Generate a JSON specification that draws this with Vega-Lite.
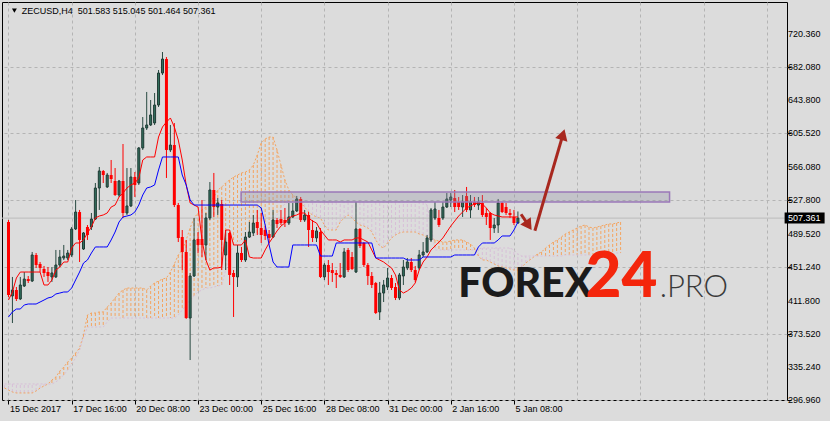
{
"$schema":"https://vega.github.io/schema/vega-lite/v6.json",
"width":785,"height":398,
"autosize":{"type":"none"},
"padding":{"left":2,"top":2,"right":43,"bottom":21},
"background":"#dcdcdc",
"config":{"view":{"stroke":"#000000","strokeWidth":1,"fill":"#dcdcdc"},"font":"Liberation Sans",
 "axis":{"labelOverlap":false,"labelBound":false,"labelFlush":false}},
"datasets":{
"candles":[
{"i":0,"o":502.9,"h":505.2,"l":416.1,"c":418.4},
{"i":1,"o":417.3,"h":439.3,"l":386.0,"c":424.2},
{"i":2,"o":424.2,"h":427.7,"l":411.5,"c":413.8},
{"i":3,"o":413.8,"h":439.3,"l":412.6,"c":430.0},
{"i":4,"o":428.8,"h":445.0,"l":427.7,"c":436.9},
{"i":5,"o":436.9,"h":440.4,"l":432.3,"c":434.6},
{"i":6,"o":434.6,"h":468.2,"l":433.5,"c":464.7},
{"i":7,"o":464.7,"h":467.0,"l":449.7,"c":453.1},
{"i":8,"o":454.3,"h":456.6,"l":445.0,"c":449.7},
{"i":9,"o":448.5,"h":452.0,"l":439.3,"c":443.9},
{"i":10,"o":445.0,"h":450.8,"l":433.5,"c":440.4},
{"i":11,"o":439.3,"h":450.8,"l":433.5,"c":443.9},
{"i":12,"o":439.3,"h":470.5,"l":438.1,"c":453.1},
{"i":13,"o":453.1,"h":470.5,"l":450.8,"c":462.4},
{"i":14,"o":461.2,"h":476.3,"l":458.9,"c":463.5},
{"i":15,"o":461.2,"h":470.5,"l":458.9,"c":467.0},
{"i":16,"o":464.7,"h":497.1,"l":462.4,"c":494.8},
{"i":17,"o":494.8,"h":528.3,"l":493.6,"c":514.4},
{"i":18,"o":514.4,"h":516.8,"l":456.6,"c":482.1},
{"i":19,"o":471.6,"h":491.3,"l":470.5,"c":490.2},
{"i":20,"o":497.1,"h":499.4,"l":482.1,"c":487.8},
{"i":21,"o":497.1,"h":513.3,"l":493.6,"c":506.3},
{"i":22,"o":506.3,"h":548.0,"l":505.2,"c":542.2},
{"i":23,"o":542.2,"h":566.5,"l":516.8,"c":561.9},
{"i":24,"o":561.9,"h":563.0,"l":548.0,"c":557.2},
{"i":25,"o":543.4,"h":559.6,"l":542.2,"c":557.2},
{"i":26,"o":557.2,"h":574.6,"l":548.0,"c":552.6},
{"i":27,"o":550.3,"h":565.3,"l":533.0,"c":534.1},
{"i":28,"o":534.1,"h":551.5,"l":531.8,"c":550.3},
{"i":29,"o":550.3,"h":593.1,"l":507.5,"c":513.3},
{"i":30,"o":513.3,"h":565.3,"l":511.0,"c":521.4},
{"i":31,"o":521.4,"h":565.3,"l":520.2,"c":554.9},
{"i":32,"o":554.9,"h":560.7,"l":531.8,"c":545.7},
{"i":33,"o":548.0,"h":589.6,"l":545.7,"c":588.5},
{"i":34,"o":588.5,"h":624.3,"l":586.2,"c":611.6},
{"i":35,"o":611.6,"h":653.3,"l":609.3,"c":615.1},
{"i":36,"o":615.1,"h":644.0,"l":613.9,"c":626.7},
{"i":37,"o":617.4,"h":652.1,"l":615.1,"c":638.2},
{"i":38,"o":638.2,"h":678.7,"l":635.9,"c":675.2},
{"i":39,"o":675.2,"h":699.5,"l":672.9,"c":691.4},
{"i":40,"o":691.4,"h":693.7,"l":553.8,"c":586.2},
{"i":41,"o":586.2,"h":615.1,"l":583.8,"c":591.9},
{"i":42,"o":591.9,"h":617.4,"l":520.2,"c":522.5},
{"i":43,"o":522.5,"h":524.9,"l":479.7,"c":484.4},
{"i":44,"o":485.5,"h":493.6,"l":447.3,"c":468.2},
{"i":45,"o":468.2,"h":482.1,"l":390.7,"c":391.8},
{"i":46,"o":391.8,"h":443.9,"l":343.2,"c":440.4},
{"i":47,"o":440.4,"h":507.5,"l":439.3,"c":482.1},
{"i":48,"o":483.2,"h":491.3,"l":467.0,"c":476.3},
{"i":49,"o":483.2,"h":528.3,"l":462.4,"c":476.3},
{"i":50,"o":476.3,"h":513.3,"l":458.9,"c":507.5},
{"i":51,"o":507.5,"h":549.1,"l":505.2,"c":539.9},
{"i":52,"o":539.9,"h":559.6,"l":508.7,"c":520.2},
{"i":53,"o":520.2,"h":530.6,"l":511.0,"c":524.9},
{"i":54,"o":523.7,"h":528.3,"l":447.3,"c":482.1},
{"i":55,"o":464.7,"h":493.6,"l":447.3,"c":479.7},
{"i":56,"o":490.2,"h":491.3,"l":430.0,"c":441.6},
{"i":57,"o":443.9,"h":447.3,"l":393.0,"c":439.3},
{"i":58,"o":439.3,"h":476.3,"l":427.7,"c":467.0},
{"i":59,"o":467.0,"h":474.0,"l":456.6,"c":458.9},
{"i":60,"o":458.9,"h":491.3,"l":456.6,"c":485.5},
{"i":61,"o":485.5,"h":502.9,"l":484.4,"c":491.3},
{"i":62,"o":490.2,"h":511.0,"l":486.7,"c":501.7},
{"i":63,"o":502.9,"h":516.8,"l":487.8,"c":495.9},
{"i":64,"o":495.9,"h":513.3,"l":478.6,"c":487.8},
{"i":65,"o":493.6,"h":498.2,"l":482.1,"c":486.7},
{"i":66,"o":489.0,"h":493.6,"l":479.7,"c":484.4},
{"i":67,"o":485.5,"h":516.8,"l":484.4,"c":505.2},
{"i":68,"o":505.2,"h":507.5,"l":495.9,"c":500.6},
{"i":69,"o":506.3,"h":516.8,"l":499.4,"c":501.7},
{"i":70,"o":505.2,"h":519.1,"l":497.1,"c":501.7},
{"i":71,"o":501.7,"h":524.9,"l":499.4,"c":508.7},
{"i":72,"o":508.7,"h":524.9,"l":507.5,"c":515.6},
{"i":73,"o":515.6,"h":533.0,"l":514.4,"c":529.5},
{"i":74,"o":529.5,"h":531.8,"l":502.9,"c":505.2},
{"i":75,"o":505.2,"h":516.8,"l":502.9,"c":511.0},
{"i":76,"o":511.0,"h":514.4,"l":474.0,"c":493.6},
{"i":77,"o":493.6,"h":505.2,"l":479.7,"c":484.4},
{"i":78,"o":484.4,"h":497.1,"l":479.7,"c":492.5},
{"i":79,"o":491.3,"h":495.9,"l":438.1,"c":439.3},
{"i":80,"o":439.3,"h":455.4,"l":435.8,"c":453.1},
{"i":81,"o":453.1,"h":458.9,"l":430.0,"c":445.0},
{"i":82,"o":447.3,"h":455.4,"l":433.5,"c":443.9},
{"i":83,"o":443.9,"h":447.3,"l":426.5,"c":441.6},
{"i":84,"o":441.6,"h":455.4,"l":438.1,"c":439.3},
{"i":85,"o":439.3,"h":472.8,"l":438.1,"c":468.2},
{"i":86,"o":470.5,"h":472.8,"l":445.0,"c":447.3},
{"i":87,"o":462.4,"h":468.2,"l":447.3,"c":448.5},
{"i":88,"o":445.0,"h":526.0,"l":443.9,"c":494.8},
{"i":89,"o":494.8,"h":495.9,"l":472.8,"c":475.1},
{"i":90,"o":478.6,"h":479.7,"l":450.8,"c":453.1},
{"i":91,"o":453.1,"h":455.4,"l":430.0,"c":440.4},
{"i":92,"o":440.4,"h":445.0,"l":426.5,"c":430.0},
{"i":93,"o":432.3,"h":433.5,"l":396.4,"c":397.6},
{"i":94,"o":398.8,"h":433.5,"l":389.5,"c":420.7},
{"i":95,"o":420.7,"h":435.8,"l":410.3,"c":430.0},
{"i":96,"o":427.7,"h":449.7,"l":424.2,"c":438.1},
{"i":97,"o":438.1,"h":441.6,"l":424.2,"c":426.5},
{"i":98,"o":427.7,"h":432.3,"l":412.6,"c":415.0},
{"i":99,"o":415.0,"h":443.9,"l":412.6,"c":441.6},
{"i":100,"o":440.4,"h":458.9,"l":430.0,"c":450.8},
{"i":101,"o":449.7,"h":461.2,"l":447.3,"c":456.6},
{"i":102,"o":456.6,"h":461.2,"l":445.0,"c":447.3},
{"i":103,"o":447.3,"h":452.0,"l":433.5,"c":435.8},
{"i":104,"o":449.7,"h":470.5,"l":447.3,"c":464.7},
{"i":105,"o":464.7,"h":479.7,"l":462.4,"c":468.2},
{"i":106,"o":468.2,"h":487.8,"l":467.0,"c":484.4},
{"i":107,"o":482.1,"h":519.1,"l":479.7,"c":516.8},
{"i":108,"o":507.5,"h":526.0,"l":505.2,"c":517.9},
{"i":109,"o":507.5,"h":516.8,"l":497.1,"c":499.4},
{"i":110,"o":507.5,"h":526.0,"l":505.2,"c":520.2},
{"i":111,"o":520.2,"h":536.4,"l":519.1,"c":529.5},
{"i":112,"o":528.3,"h":536.4,"l":520.2,"c":531.8},
{"i":113,"o":530.6,"h":539.9,"l":514.4,"c":520.2},
{"i":114,"o":526.0,"h":531.8,"l":516.8,"c":520.2},
{"i":115,"o":520.2,"h":534.1,"l":508.7,"c":526.0},
{"i":116,"o":532.9,"h":543.4,"l":514.4,"c":516.8},
{"i":117,"o":516.8,"h":534.1,"l":507.5,"c":526.0},
{"i":118,"o":526.0,"h":531.8,"l":520.2,"c":522.5},
{"i":119,"o":522.5,"h":531.8,"l":516.8,"c":526.0},
{"i":120,"o":524.9,"h":534.1,"l":508.7,"c":511.0},
{"i":121,"o":513.3,"h":519.1,"l":499.4,"c":508.7},
{"i":122,"o":513.3,"h":514.4,"l":482.1,"c":495.9},
{"i":123,"o":495.9,"h":507.5,"l":490.2,"c":499.4},
{"i":124,"o":499.4,"h":529.5,"l":490.2,"c":524.9},
{"i":125,"o":524.9,"h":526.0,"l":513.3,"c":514.4},
{"i":126,"o":520.2,"h":524.9,"l":511.0,"c":513.3},
{"i":127,"o":513.3,"h":517.9,"l":507.5,"c":511.0},
{"i":128,"o":508.7,"h":516.8,"l":499.4,"c":501.7},
{"i":129,"o":501.583,"h":515.045,"l":501.464,"c":507.361}
],
"ichi":[
{"i":0,"t":412.6,"k":393.0},{"i":1,"t":421.9,"k":398.8},{"i":2,"t":438.1,"k":402.2},{"i":3,"t":445.0,"k":402.2},
{"i":4,"t":445.0,"k":406.9},{"i":5,"t":445.0,"k":408.0},{"i":6,"t":445.0,"k":408.0},{"i":7,"t":445.0,"k":408.0},
{"i":8,"t":445.0,"k":410.3},{"i":9,"t":430.0,"k":412.6},{"i":10,"t":430.0,"k":415.0},{"i":11,"t":435.8,"k":416.1},
{"i":12,"t":447.3,"k":419.6},{"i":13,"t":450.8,"k":420.7},{"i":14,"t":456.6,"k":421.9},{"i":15,"t":456.6,"k":421.9},
{"i":16,"t":472.8,"k":426.5},{"i":17,"t":478.6,"k":435.8},{"i":18,"t":478.6,"k":445.0},{"i":19,"t":482.1,"k":455.4},
{"i":20,"t":490.2,"k":458.9},{"i":21,"t":497.1,"k":467.0},{"i":22,"t":507.5,"k":474.0},{"i":23,"t":509.8,"k":474.0},
{"i":24,"t":511.0,"k":474.0},{"i":25,"t":513.3,"k":474.0},{"i":26,"t":520.2,"k":482.1},{"i":27,"t":522.5,"k":491.3},
{"i":28,"t":531.8,"k":502.9},{"i":29,"t":536.4,"k":508.7},{"i":30,"t":542.2,"k":509.8},{"i":31,"t":545.7,"k":511.0},
{"i":32,"t":548.0,"k":514.4},{"i":33,"t":553.8,"k":522.5},{"i":34,"t":574.6,"k":534.1},{"i":35,"t":578.1,"k":542.2},
{"i":36,"t":578.1,"k":543.4},{"i":37,"t":578.1,"k":545.7},{"i":38,"t":601.2,"k":563.0},{"i":39,"t":612.8,"k":578.1},
{"i":40,"t":618.5,"k":578.1},{"i":41,"t":623.2,"k":578.1},{"i":42,"t":612.8,"k":578.1},{"i":43,"t":597.7,"k":578.1},
{"i":44,"t":574.6,"k":557.2},{"i":45,"t":545.7,"k":545.7},{"i":46,"t":524.9,"k":528.3},{"i":47,"t":522.5,"k":522.5},
{"i":48,"t":520.2,"k":522.5},{"i":49,"t":482.1,"k":522.5},{"i":50,"t":458.9,"k":522.5},{"i":51,"t":447.3,"k":522.5},
{"i":52,"t":449.7,"k":522.5},{"i":53,"t":449.7,"k":522.5},{"i":54,"t":450.8,"k":522.5},{"i":55,"t":493.6,"k":522.5},
{"i":56,"t":493.6,"k":522.5},{"i":57,"t":476.3,"k":522.5},{"i":58,"t":476.3,"k":522.5},{"i":59,"t":476.3,"k":522.5},
{"i":60,"t":482.1,"k":522.5},{"i":61,"t":462.4,"k":522.5},{"i":62,"t":461.2,"k":522.5},{"i":63,"t":461.2,"k":522.5},
{"i":64,"t":461.2,"k":519.1},{"i":65,"t":470.5,"k":499.4},{"i":66,"t":478.6,"k":476.3},{"i":67,"t":485.5,"k":456.6},
{"i":68,"t":492.5,"k":450.8},{"i":69,"t":498.2,"k":450.8},{"i":70,"t":501.7,"k":450.8},{"i":71,"t":507.5,"k":450.8},
{"i":72,"t":509.8,"k":476.3},{"i":73,"t":511.0,"k":476.3},{"i":74,"t":513.3,"k":476.3},{"i":75,"t":513.3,"k":476.3},
{"i":76,"t":507.5,"k":476.3},{"i":77,"t":504.0,"k":476.3},{"i":78,"t":501.7,"k":476.3},{"i":79,"t":493.6,"k":463.5},
{"i":80,"t":487.8,"k":463.5},{"i":81,"t":482.1,"k":463.5},{"i":82,"t":482.1,"k":463.5},{"i":83,"t":482.1,"k":478.6},
{"i":84,"t":479.7,"k":478.6},{"i":85,"t":482.1,"k":478.6},{"i":86,"t":482.1,"k":478.6},{"i":87,"t":482.1,"k":478.6},
{"i":88,"t":484.4,"k":478.6},{"i":89,"t":484.4,"k":478.6},{"i":90,"t":482.1,"k":478.6},{"i":91,"t":479.7,"k":478.6},
{"i":92,"t":470.5,"k":478.6},{"i":93,"t":461.2,"k":461.2},{"i":94,"t":458.9,"k":461.2},{"i":95,"t":456.6,"k":461.2},
{"i":96,"t":453.1,"k":461.2},{"i":97,"t":449.7,"k":461.2},{"i":98,"t":441.6,"k":461.2},{"i":99,"t":424.2,"k":461.2},
{"i":100,"t":420.7,"k":461.2},{"i":101,"t":423.1,"k":458.9},{"i":102,"t":426.5,"k":458.9},{"i":103,"t":432.3,"k":458.9},
{"i":104,"t":447.3,"k":458.9},{"i":105,"t":456.6,"k":462.4},{"i":106,"t":462.4,"k":462.4},{"i":107,"t":470.5,"k":462.4},
{"i":108,"t":475.1,"k":462.4},{"i":109,"t":479.7,"k":462.4},{"i":110,"t":484.4,"k":462.4},{"i":111,"t":491.3,"k":462.4},
{"i":112,"t":498.2,"k":462.4},{"i":113,"t":504.0,"k":464.7},{"i":114,"t":509.8,"k":464.7},{"i":115,"t":514.4,"k":464.7},
{"i":116,"t":519.1,"k":464.7},{"i":117,"t":521.4,"k":464.7},{"i":118,"t":523.7,"k":464.7},{"i":119,"t":524.9,"k":474.0},
{"i":120,"t":523.7,"k":478.6},{"i":121,"t":519.1,"k":478.6},{"i":122,"t":513.3,"k":478.6},{"i":123,"t":511.0,"k":478.6},
{"i":124,"t":509.8,"k":482.1},{"i":125,"t":508.7,"k":486.7},{"i":126,"t":508.7,"k":486.7},{"i":127,"t":508.7,"k":486.7},
{"i":128,"t":508.7,"k":493.6},{"i":129,"t":508.7,"k":502.9}
],
"cloud":[
{"i":-1,"a":310.8,"b":315.5},{"i":0,"a":308.5,"b":315.5},{"i":1,"a":306.2,"b":315.5},{"i":2,"a":305.1,"b":315.5},
{"i":3,"a":305.1,"b":315.5},{"i":4,"a":305.1,"b":315.5},{"i":5,"a":305.1,"b":315.5},{"i":6,"a":305.1,"b":315.5},
{"i":7,"a":307.4,"b":315.5},{"i":8,"a":310.8,"b":315.5},{"i":9,"a":313.2,"b":315.5},{"i":10,"a":315.5,"b":315.5},
{"i":11,"a":320.1,"b":315.5},{"i":12,"a":323.6,"b":317.8},{"i":13,"a":330.5,"b":321.3},{"i":14,"a":335.1,"b":325.9},
{"i":15,"a":340.9,"b":331.7},{"i":16,"a":345.6,"b":338.6},{"i":17,"a":351.3,"b":345.6},{"i":18,"a":357.1,"b":354.8},
{"i":19,"a":372.2,"b":369.8},{"i":20,"a":395.3,"b":381.4},{"i":21,"a":397.6,"b":381.4},{"i":22,"a":397.6,"b":381.4},
{"i":23,"a":398.8,"b":381.4},{"i":24,"a":398.8,"b":381.4},{"i":25,"a":404.5,"b":387.2},{"i":26,"a":409.2,"b":391.8},
{"i":27,"a":415.0,"b":391.8},{"i":28,"a":420.7,"b":391.8},{"i":29,"a":424.2,"b":391.8},{"i":30,"a":426.5,"b":391.8},
{"i":31,"a":426.5,"b":391.8},{"i":32,"a":426.5,"b":391.8},{"i":33,"a":426.5,"b":391.8},{"i":34,"a":426.5,"b":391.8},
{"i":35,"a":424.2,"b":391.8},{"i":36,"a":428.8,"b":391.8},{"i":37,"a":432.3,"b":391.8},{"i":38,"a":434.6,"b":391.8},
{"i":39,"a":436.9,"b":391.8},{"i":40,"a":438.1,"b":391.8},{"i":41,"a":445.0,"b":391.8},{"i":42,"a":454.3,"b":391.8},
{"i":43,"a":464.7,"b":395.3},{"i":44,"a":470.5,"b":401.1},{"i":45,"a":482.1,"b":406.9},{"i":46,"a":495.9,"b":412.6},
{"i":47,"a":507.5,"b":417.3},{"i":48,"a":513.3,"b":421.9},{"i":49,"a":516.8,"b":424.2},{"i":50,"a":520.2,"b":426.5},
{"i":51,"a":524.9,"b":426.5},{"i":52,"a":531.8,"b":427.7},{"i":53,"a":539.9,"b":428.8},{"i":54,"a":543.4,"b":430.0},
{"i":55,"a":548.0,"b":447.3},{"i":56,"a":551.5,"b":464.7},{"i":57,"a":554.9,"b":476.3},{"i":58,"a":557.2,"b":479.7},
{"i":59,"a":559.6,"b":482.1},{"i":60,"a":560.7,"b":482.1},{"i":61,"a":563.0,"b":484.4},{"i":62,"a":568.8,"b":486.7},
{"i":63,"a":580.4,"b":489.0},{"i":64,"a":594.3,"b":491.3},{"i":65,"a":598.9,"b":493.6},{"i":66,"a":601.2,"b":495.9},
{"i":67,"a":601.2,"b":502.9},{"i":68,"a":586.2,"b":511.0},{"i":69,"a":568.8,"b":519.1},{"i":70,"a":551.5,"b":523.7},
{"i":71,"a":539.9,"b":526.0},{"i":72,"a":534.1,"b":526.0},{"i":73,"a":530.6,"b":526.0},{"i":74,"a":524.9,"b":526.0},
{"i":75,"a":520.2,"b":526.0},{"i":76,"a":514.4,"b":526.0},{"i":77,"a":511.0,"b":526.0},{"i":78,"a":508.7,"b":526.0},
{"i":79,"a":507.5,"b":526.0},{"i":80,"a":499.4,"b":526.0},{"i":81,"a":493.6,"b":526.0},{"i":82,"a":493.6,"b":526.0},
{"i":83,"a":493.6,"b":526.0},{"i":84,"a":502.9,"b":526.0},{"i":85,"a":507.5,"b":526.0},{"i":86,"a":511.0,"b":526.0},
{"i":87,"a":507.5,"b":526.0},{"i":88,"a":502.9,"b":526.0},{"i":89,"a":499.4,"b":526.0},{"i":90,"a":498.2,"b":526.0},
{"i":91,"a":495.9,"b":526.0},{"i":92,"a":491.3,"b":526.0},{"i":93,"a":482.1,"b":526.0},{"i":94,"a":475.1,"b":526.0},
{"i":95,"a":472.8,"b":526.0},{"i":96,"a":478.6,"b":526.0},{"i":97,"a":484.4,"b":526.0},{"i":98,"a":487.8,"b":526.0},
{"i":99,"a":490.2,"b":526.0},{"i":100,"a":491.3,"b":526.0},{"i":101,"a":491.3,"b":526.0},{"i":102,"a":491.3,"b":526.0},
{"i":103,"a":491.3,"b":526.0},{"i":104,"a":489.0,"b":526.0},{"i":105,"a":487.8,"b":526.0},{"i":106,"a":485.5,"b":522.5},
{"i":107,"a":484.4,"b":499.4},{"i":108,"a":482.1,"b":470.5},{"i":109,"a":480.9,"b":470.5},{"i":110,"a":479.7,"b":470.5},
{"i":111,"a":479.7,"b":470.5},{"i":112,"a":480.9,"b":470.5},{"i":113,"a":482.1,"b":470.5},{"i":114,"a":482.1,"b":470.5},
{"i":115,"a":482.1,"b":470.5},{"i":116,"a":479.7,"b":470.5},{"i":117,"a":477.4,"b":470.5},{"i":118,"a":472.8,"b":470.5},
{"i":119,"a":463.5,"b":471.6},{"i":120,"a":458.9,"b":472.8},{"i":121,"a":458.9,"b":472.8},{"i":122,"a":456.6,"b":472.8},
{"i":123,"a":454.3,"b":472.8},{"i":124,"a":452.0,"b":472.8},{"i":125,"a":450.8,"b":472.8},{"i":126,"a":449.7,"b":472.8},
{"i":127,"a":448.5,"b":472.8},{"i":128,"a":447.3,"b":470.5},{"i":129,"a":447.3,"b":465.9},{"i":130,"a":450.8,"b":463.5},
{"i":131,"a":455.4,"b":463.5},{"i":132,"a":458.9,"b":463.5},{"i":133,"a":462.4,"b":463.5},{"i":134,"a":465.9,"b":463.5},
{"i":135,"a":468.2,"b":463.5},{"i":136,"a":472.8,"b":463.5},{"i":137,"a":476.3,"b":463.5},{"i":138,"a":479.7,"b":463.5},
{"i":139,"a":482.1,"b":463.5},{"i":140,"a":485.5,"b":463.5},{"i":141,"a":489.0,"b":464.7},{"i":142,"a":491.3,"b":464.7},
{"i":143,"a":493.6,"b":464.7},{"i":144,"a":495.9,"b":464.7},{"i":145,"a":498.2,"b":464.7},{"i":146,"a":499.4,"b":464.7},
{"i":147,"a":497.1,"b":464.7},{"i":148,"a":495.9,"b":464.7},{"i":149,"a":497.1,"b":464.7},{"i":150,"a":498.2,"b":465.9},
{"i":151,"a":499.4,"b":465.9},{"i":152,"a":500.6,"b":465.9},{"i":153,"a":500.6,"b":465.9},{"i":154,"a":501.7,"b":467.0},
{"i":155,"a":502.9,"b":467.0}
],
"yticks":[{"v":296.96},{"v":335.24},{"v":373.52},{"v":411.8},{"v":451.24},{"v":489.52},{"v":527.8},{"v":566.08},{"v":605.52},{"v":643.8},{"v":682.08},{"v":720.36}],
"bid":[{"p":507.361,"lbl":"507.361"}],
"zone":[{"i0":58.9,"i1":167.4,"p0":526.0,"p1":537.6}],
"arrows":[
{"id":"down","i0":129.8,"p0":511.8,"i1":131.7,"p1":498.9},
{"id":"up","i0":133.3,"p0":492.8,"i1":140.4,"p1":604.0}
],
"labels":[
{"k":"head","t":"ZECUSD,H4\u00a0\u00a0501.583 515.045 501.464 507.361","i":3.375,"p":743.5},
{"k":"w1","t":"FOREX","i":113.9,"p":416.1},
{"k":"w2","t":"24","i":146.1,"p":416.1},
{"k":"w3","t":".PRO","i":164.9,"p":416.1}
],
"marker":[{"i":1.5,"p":747.5}]
},
"layer":[
{"data":{"name":"cloud"},
 "mark":{"type":"rule","strokeWidth":1,"strokeDash":[3,2]},
 "encoding":{
  "x":{"field":"i","type":"quantitative","title":null,"scale":{"domain":[-0.375,195.875],"nice":false,"zero":false},
   "axis":{"orient":"bottom","values":[0,8,16,24,32,40,48,56,64,72,80,88,96,104,112,120,128,136,144,152,160,168,176,184,192],
    "grid":true,"gridColor":"#b4b4b4","gridDash":[3,3],"gridWidth":1,"domain":false,
    "tickColor":"#000000","tickSize":4,"tickWidth":1,
    "tickOpacity":{"condition":{"test":"datum.value % 16 == 0 && datum.value <= 128","value":1},"value":0},
    "labelExpr":"(datum.value % 16 == 0 && datum.value <= 128) ? ['15 Dec 2017','17 Dec 16:00','20 Dec 08:00','23 Dec 00:00','25 Dec 16:00','28 Dec 08:00','31 Dec 00:00','2 Jan 16:00','5 Jan 08:00'][datum.value/16] : ''",
    "labelAlign":"left","labelBaseline":"top","labelPadding":0,"labelOffset":1,
    "labelFont":"Liberation Sans","labelFontSize":9,"labelColor":"#000000",
    "labelOverlap":false,"labelBound":false,"labelFlush":false}},
  "y":{"field":"a","type":"quantitative","title":null,"scale":{"domain":[296.96,757.37],"nice":false,"zero":false},
   "axis":{"orient":"right","values":[296.96,335.24,373.52,411.8,451.24,489.52,527.8,566.08,605.52,643.8,682.08,720.36],
    "grid":true,"gridColor":"#b4b4b4","gridDash":[3,3],"gridWidth":1,"domain":false,
    "tickColor":"#000000","tickSize":4,"labels":false}},
  "y2":{"field":"b"},
  "color":{"condition":{"test":"datum.a > datum.b","value":"#f4a460"},"value":"#d8bfd8"}
 }},
{"data":{"name":"yticks"},
 "mark":{"type":"text","align":"left","baseline":"middle","font":"Liberation Sans","fontSize":9,"color":"#000000"},
 "encoding":{
  "x":{"datum":197.4,"type":"quantitative","title":null,"scale":{"domain":[-0.375,195.875],"nice":false,"zero":false}},
  "y":{"field":"v","type":"quantitative","title":null,"scale":{"domain":[296.96,757.37],"nice":false,"zero":false}},
  "text":{"field":"v","type":"quantitative","format":".3f"}}},
{"data":{"name":"cloud"},
 "mark":{"type":"line","color":"#f4a460","strokeWidth":1,"strokeDash":[2,2]},
 "encoding":{
  "x":{"field":"i","type":"quantitative","title":null,"scale":{"domain":[-0.375,195.875],"nice":false,"zero":false}},
  "y":{"field":"a","type":"quantitative","title":null,"scale":{"domain":[296.96,757.37],"nice":false,"zero":false}}}},
{"data":{"name":"cloud"},
 "mark":{"type":"line","color":"#d8bfd8","strokeWidth":1,"strokeDash":[2,2]},
 "encoding":{
  "x":{"field":"i","type":"quantitative","title":null,"scale":{"domain":[-0.375,195.875],"nice":false,"zero":false}},
  "y":{"field":"b","type":"quantitative","title":null,"scale":{"domain":[296.96,757.37],"nice":false,"zero":false}}}},
{"data":{"name":"bid"},
 "mark":{"type":"rule","color":"#bcbcbc","strokeWidth":1},
 "encoding":{
  "y":{"field":"p","type":"quantitative","title":null,"scale":{"domain":[296.96,757.37],"nice":false,"zero":false}}}},
{"data":{"name":"candles"},
 "mark":{"type":"rule","strokeWidth":1},
 "encoding":{
  "x":{"field":"i","type":"quantitative","title":null,"scale":{"domain":[-0.375,195.875],"nice":false,"zero":false}},
  "y":{"field":"l","type":"quantitative","title":null,"scale":{"domain":[296.96,757.37],"nice":false,"zero":false}},
  "y2":{"field":"h"},
  "color":{"condition":{"test":"datum.c >= datum.o","value":"#294a42"},"value":"#ff0000"}}},
{"data":{"name":"candles"},
 "transform":[{"filter":"datum.c >= datum.o"}],
 "mark":{"type":"bar","orient":"vertical","size":2,"fill":"#33705e","stroke":"#1f3a34","strokeWidth":1},
 "encoding":{
  "x":{"field":"i","type":"quantitative","title":null,"scale":{"domain":[-0.375,195.875],"nice":false,"zero":false}},
  "y":{"field":"o","type":"quantitative","title":null,"scale":{"domain":[296.96,757.37],"nice":false,"zero":false}},
  "y2":{"field":"c"}}},
{"data":{"name":"candles"},
 "transform":[{"filter":"datum.c < datum.o"}],
 "mark":{"type":"bar","orient":"vertical","size":3,"fill":"#ff0000"},
 "encoding":{
  "x":{"field":"i","type":"quantitative","title":null,"scale":{"domain":[-0.375,195.875],"nice":false,"zero":false}},
  "y":{"field":"o","type":"quantitative","title":null,"scale":{"domain":[296.96,757.37],"nice":false,"zero":false}},
  "y2":{"field":"c"}}},
{"data":{"name":"ichi"},
 "mark":{"type":"line","color":"#ff0000","strokeWidth":1},
 "encoding":{
  "x":{"field":"i","type":"quantitative","title":null,"scale":{"domain":[-0.375,195.875],"nice":false,"zero":false}},
  "y":{"field":"t","type":"quantitative","title":null,"scale":{"domain":[296.96,757.37],"nice":false,"zero":false}}}},
{"data":{"name":"ichi"},
 "mark":{"type":"line","color":"#0000ff","strokeWidth":1},
 "encoding":{
  "x":{"field":"i","type":"quantitative","title":null,"scale":{"domain":[-0.375,195.875],"nice":false,"zero":false}},
  "y":{"field":"k","type":"quantitative","title":null,"scale":{"domain":[296.96,757.37],"nice":false,"zero":false}}}},
{"data":{"name":"zone"},
 "mark":{"type":"rect","fill":"#8c8ca0","fillOpacity":0.3,"stroke":"#9a78b8","strokeWidth":1.5},
 "encoding":{
  "x":{"field":"i0","type":"quantitative","title":null,"scale":{"domain":[-0.375,195.875],"nice":false,"zero":false}},
  "x2":{"field":"i1"},
  "y":{"field":"p0","type":"quantitative","title":null,"scale":{"domain":[296.96,757.37],"nice":false,"zero":false}},
  "y2":{"field":"p1"}}},
{"data":{"name":"arrows"},
 "mark":{"type":"rule","color":"#a8281f","strokeWidth":3},
 "encoding":{
  "x":{"field":"i0","type":"quantitative","title":null,"scale":{"domain":[-0.375,195.875],"nice":false,"zero":false}},
  "x2":{"field":"i1"},
  "y":{"field":"p0","type":"quantitative","title":null,"scale":{"domain":[296.96,757.37],"nice":false,"zero":false}},
  "y2":{"field":"p1"}}},
{"data":{"name":"arrows"},
 "mark":{"type":"point","shape":"triangle-up","filled":true,"color":"#a8281f","opacity":1,"size":160},
 "encoding":{
  "x":{"field":"i1","type":"quantitative","title":null,"scale":{"domain":[-0.375,195.875],"nice":false,"zero":false}},
  "y":{"field":"p1","type":"quantitative","title":null,"scale":{"domain":[296.96,757.37],"nice":false,"zero":false}},
  "angle":{"condition":{"test":"datum.id == 'up'","value":17},"value":146}}},
{"data":{"name":"marker"},
 "mark":{"type":"point","shape":"triangle-down","filled":true,"color":"#000000","opacity":1,"size":24},
 "encoding":{
  "x":{"field":"i","type":"quantitative","title":null,"scale":{"domain":[-0.375,195.875],"nice":false,"zero":false}},
  "y":{"field":"p","type":"quantitative","title":null,"scale":{"domain":[296.96,757.37],"nice":false,"zero":false}}}},
{"data":{"name":"labels"},
 "transform":[{"filter":"datum.k == 'head'"}],
 "mark":{"type":"text","align":"left","baseline":"alphabetic","font":"Liberation Sans","fontSize":9,"color":"#000000"},
 "encoding":{
  "x":{"field":"i","type":"quantitative","title":null,"scale":{"domain":[-0.375,195.875],"nice":false,"zero":false}},
  "y":{"field":"p","type":"quantitative","title":null,"scale":{"domain":[296.96,757.37],"nice":false,"zero":false}},
  "text":{"field":"t"}}},
{"data":{"name":"bid"},
 "mark":{"type":"tick","orient":"horizontal","size":40,"thickness":11,"color":"#000000","opacity":1},
 "encoding":{
  "x":{"datum":201.6,"type":"quantitative","title":null,"scale":{"domain":[-0.375,195.875],"nice":false,"zero":false}},
  "y":{"field":"p","type":"quantitative","title":null,"scale":{"domain":[296.96,757.37],"nice":false,"zero":false}}}},
{"data":{"name":"bid"},
 "mark":{"type":"text","align":"left","baseline":"middle","font":"Liberation Sans","fontSize":9,"color":"#ffffff"},
 "encoding":{
  "x":{"datum":197.4,"type":"quantitative","title":null,"scale":{"domain":[-0.375,195.875],"nice":false,"zero":false}},
  "y":{"field":"p","type":"quantitative","title":null,"scale":{"domain":[296.96,757.37],"nice":false,"zero":false}},
  "text":{"field":"lbl"}}},
{"data":{"name":"labels"},
 "transform":[{"filter":"datum.k == 'w1'"}],
 "mark":{"type":"text","align":"left","baseline":"alphabetic","font":"Lato","fontWeight":900,"fontSize":41,"color":"#1b1b1b"},
 "encoding":{
  "x":{"field":"i","type":"quantitative","title":null,"scale":{"domain":[-0.375,195.875],"nice":false,"zero":false}},
  "y":{"field":"p","type":"quantitative","title":null,"scale":{"domain":[296.96,757.37],"nice":false,"zero":false}},
  "text":{"field":"t"}}},
{"data":{"name":"labels"},
 "transform":[{"filter":"datum.k == 'w2'"}],
 "mark":{"type":"text","align":"left","baseline":"alphabetic","font":"Lato","fontWeight":900,"fontSize":62,"color":"#f4260c"},
 "encoding":{
  "x":{"field":"i","type":"quantitative","title":null,"scale":{"domain":[-0.375,195.875],"nice":false,"zero":false}},
  "y":{"field":"p","type":"quantitative","title":null,"scale":{"domain":[296.96,757.37],"nice":false,"zero":false}},
  "text":{"field":"t"}}},
{"data":{"name":"labels"},
 "transform":[{"filter":"datum.k == 'w3'"}],
 "mark":{"type":"text","align":"left","baseline":"alphabetic","font":"Lato","fontWeight":300,"fontSize":31,"color":"#3a3a3a"},
 "encoding":{
  "x":{"field":"i","type":"quantitative","title":null,"scale":{"domain":[-0.375,195.875],"nice":false,"zero":false}},
  "y":{"field":"p","type":"quantitative","title":null,"scale":{"domain":[296.96,757.37],"nice":false,"zero":false}},
  "text":{"field":"t"}}}
]
}
